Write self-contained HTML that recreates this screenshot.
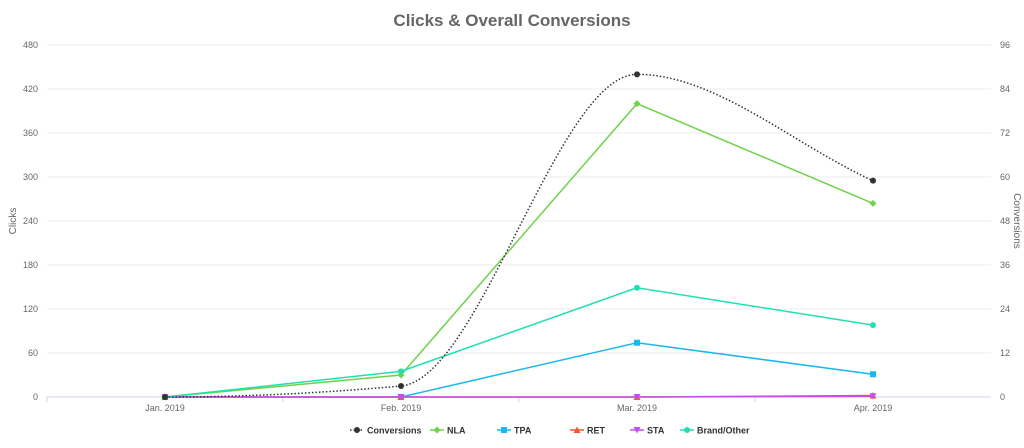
<!DOCTYPE html>
<html><head><meta charset="utf-8"><style>
body{margin:0;background:#fff;font-family:"Liberation Sans",sans-serif}
svg text{font-family:"Liberation Sans",sans-serif}
</style></head><body>
<svg id="c" width="1024" height="443">
<text x="512" y="26" text-anchor="middle" font-size="17" font-weight="bold" fill="#666">Clicks &amp; Overall Conversions</text>
<text transform="translate(16,221) rotate(-90)" text-anchor="middle" font-size="10" fill="#666">Clicks</text>
<text transform="translate(1014,221) rotate(90)" text-anchor="middle" font-size="10" fill="#666">Conversions</text>
<g id="grid"></g><g id="series"></g><g id="legend"></g>
</svg>
<script>
const categories=["Jan. 2019","Feb. 2019","Mar. 2019","Apr. 2019"];
const leftTicks=[0,60,120,180,240,300,360,420,480];
const rightTicks=[0,12,24,36,48,60,72,84,96];
const conversions=[0,3,88,59];
const nla=[0,30,400,264];
const tpa=[0,0,74,31];
const ret=[0,0,0,2];
const sta=[0,0,0,1];
const brand=[0,35,149,98];
const NS="http://www.w3.org/2000/svg";
const L=47,R=991,T=45,B=397;
const x=i=>L+(i+0.5)*(R-L)/categories.length;
const yl=v=>B-v/480*(B-T);
const yr=v=>B-v/96*(B-T);
function mk(t,a,p){const e=document.createElementNS(NS,t);for(const k in a)e.setAttribute(k,a[k]);p.appendChild(e);return e;}
const grid=document.getElementById('grid');
leftTicks.forEach((v,i)=>{
 const y=yl(v);
 const g=mk('line',{x1:L,x2:R,y1:y,y2:y,stroke:i==0?'#ccd6eb':'#eee'},grid);
 
 
 const t=mk('text',{x:38,y:y+3,'text-anchor':'end','font-size':9,fill:'#666'},grid);t.textContent=v;
 
 
});
rightTicks.forEach(v=>{
 const t=mk('text',{x:1000,y:yr(v)+3,'text-anchor':'start','font-size':9,fill:'#666'},grid);t.textContent=v;
 
 
});
categories.forEach((c,i)=>{
 const t=mk('text',{x:x(i),y:411,'text-anchor':'middle','font-size':9,fill:'#666'},grid);t.textContent=c;
 
 
 mk('line',{x1:L+i*(R-L)/4,x2:L+i*(R-L)/4,y1:B,y2:B+5,stroke:'#ccd6eb'},grid);
});
const sg=document.getElementById('series');
function marker(type,cx,cy,col,p){
 let e;
 if(type=='circle')e=mk('circle',{cx,cy,r:3,fill:col},p);
 else if(type=='square')e=mk('rect',{x:cx-3,y:cy-3,width:6,height:6,fill:col},p);
 else if(type=='diamond')e=mk('path',{d:`M${cx} ${cy-3.5}L${cx+3.5} ${cy}L${cx} ${cy+3.5}L${cx-3.5} ${cy}Z`,fill:col},p);
 else if(type=='tri')e=mk('path',{d:`M${cx} ${cy-3.5}L${cx+3.5} ${cy+3}L${cx-3.5} ${cy+3}Z`,fill:col},p);
 else e=mk('path',{d:`M${cx-3.5} ${cy-3}L${cx+3.5} ${cy-3}L${cx} ${cy+3.5}Z`,fill:col},p);
 return e;
}
const defs=[["NLA",nla,'#6fd24a','diamond'],["TPA",tpa,'#1ab7f0','square'],["RET",ret,'#f2572e','tri'],["STA",sta,'#c24ef2','tri-down'],["Brand/Other",brand,'#21e0b0','circle']];
defs.forEach(([n,d,col,m])=>{
 const p=mk('path',{d:d.map((v,i)=>(i?'L':'M')+x(i)+' '+yl(v)).join(''),fill:'none',stroke:col,'stroke-width':1.5},sg);
 
 
 d.forEach((v,i)=>{const e=marker(m,x(i),yl(v),col,sg);
  
  });
});
// monotone cubic spline for conversions
const pts=conversions.map((v,i)=>[x(i),yr(v)]);
const n=pts.length, sl=[], tg=[];
for(let i=0;i<n-1;i++)sl.push((pts[i+1][1]-pts[i][1])/(pts[i+1][0]-pts[i][0]));
for(let i=0;i<n;i++){
 if(i==0)tg.push(sl[0]);else if(i==n-1)tg.push(sl[n-2]);
 else{const a=sl[i-1],b=sl[i];tg.push(a*b<=0?0:2*a*b/(a+b));}
}
tg[0]=0;
let d='M'+pts[0].join(' ');
for(let i=0;i<n-1;i++){
 const h=(pts[i+1][0]-pts[i][0])/3;
 d+=`C${pts[i][0]+h} ${pts[i][1]+tg[i]*h} ${pts[i+1][0]-h} ${pts[i+1][1]-tg[i+1]*h} ${pts[i+1][0]} ${pts[i+1][1]}`;
}
const cp=mk('path',{d,fill:'none',stroke:'#333','stroke-width':1.5,'stroke-dasharray':'1.5,2'},sg);


pts.forEach(p=>{const e=mk('circle',{cx:p[0],cy:p[1],r:3,fill:'#333'},sg);
 
 });
// legend
const lg=document.getElementById('legend');
const items=[["Conversions",'#333','circle',350],...defs.map((d,i)=>[d[0],d[2],d[3],[430,497,570,630,680][i]])];
items.forEach(([nm,col,m,lx])=>{
 const g=mk('g',{},lg);
 
 
 mk('line',{x1:lx,x2:lx+14,y1:430,y2:430,stroke:col,'stroke-width':1.5,'stroke-dasharray':nm=='Conversions'?'1.5,2':'none'},g);
 marker(m,lx+7,430,col,g);
 const t=mk('text',{x:lx+17,y:433.5,'font-size':9,'font-weight':'bold',fill:'#333'},g);t.textContent=nm;
});
</script>
</body></html>
